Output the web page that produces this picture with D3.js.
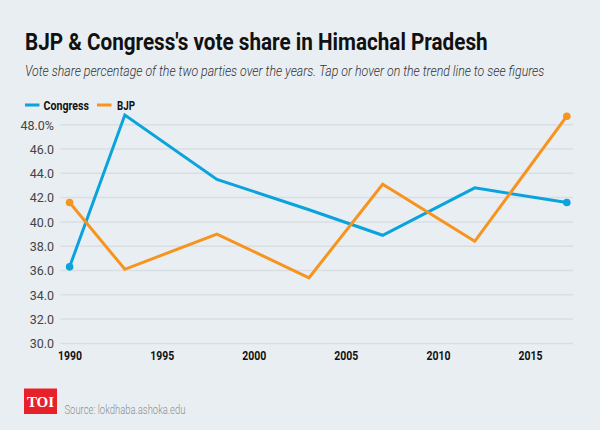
<!DOCTYPE html>
<html><head><meta charset="utf-8">
<script src="https://cdn.jsdelivr.net/npm/d3@7"></script>
<style>html,body{margin:0;padding:0;background:#e9eef3;}svg{display:block;}</style>
</head><body>
<script>
const years = [1990, 1993, 1998, 2003, 2007, 2012, 2017];
const congress = [36.3, 48.8, 43.5, 41.0, 38.9, 42.8, 41.6];
const bjp = [41.6, 36.1, 39.0, 35.4, 43.1, 38.4, 48.7];
const yTicks = [30, 32, 34, 36, 38, 40, 42, 44, 46, 48];
const xTicks = [1990, 1995, 2000, 2005, 2010, 2015];
const seriesNames = ["Congress", "BJP"];
const colors = ["#0aa3de", "#f7941e"];

const W = 600, H = 430;
const svg = d3.select("body").append("svg").attr("width", W).attr("height", H);
svg.append("rect").attr("width", W).attr("height", H).attr("fill", "#e9eef3");

// horizontally condensed text helper
function condensed(g, px, py, width, txt, attrs) {
  const grp = g.append("g");
  const t = grp.append("text").attr("x", 0).attr("y", 0).text(txt);
  Object.entries(attrs).forEach(([k, v]) => t.attr(k, v));
  const w0 = t.node().getComputedTextLength();
  grp.attr("transform", `translate(${px},${py}) scale(${width / w0},1)`);
  return grp;
}

condensed(svg, 25, 50, 463, "BJP & Congress's vote share in Himachal Pradesh",
  {"font-family": "Roboto", "font-weight": 700, "font-size": 24.5, "fill": "#111"});
condensed(svg, 25, 76, 520, "Vote share percentage of the two parties over the years. Tap or hover on the trend line to see figures",
  {"font-family": "Roboto", "font-style": "italic", "font-weight": 300, "font-size": 14.5, "fill": "#333"});

// legend
const legend = [{x: 25, tx: 43.5, tw: 45.5}, {x: 97, tx: 117, tw: 18}];
seriesNames.forEach((n, i) => {
  svg.append("line").attr("x1", legend[i].x).attr("x2", legend[i].x + 14.5)
    .attr("y1", 105).attr("y2", 105).attr("stroke", colors[i]).attr("stroke-width", 3);
  condensed(svg, legend[i].tx, 110, legend[i].tw, n,
    {"font-family": "Roboto", "font-weight": 700, "font-size": 12.5, "fill": "#111"});
});

const x = d3.scaleLinear().domain([1990, 2015]).range([69.6, 530]);
const y = d3.scaleLinear().domain([30, 48]).range([343.4, 124.7]);

// grid + y labels
const yAxis = d3.axisLeft(y).tickValues(yTicks).tickSize(0).tickPadding(0)
  .tickFormat(d => d === 48 ? d.toFixed(1) + "%" : d.toFixed(1));
const gy = svg.append("g").attr("transform", "translate(54,0)").call(yAxis);
gy.select(".domain").remove();
gy.selectAll("text").attr("font-family", "Roboto").attr("font-size", 12.5)
  .attr("fill", "#444").attr("dy", "0.35em");
svg.append("g").selectAll("line").data(yTicks).join("line")
  .attr("x1", 60.5).attr("x2", 573).attr("y1", d => y(d)).attr("y2", d => y(d))
  .attr("stroke", "#d9dee3").attr("stroke-width", 1.5);

// x axis
const xAxis = d3.axisBottom(x).tickValues(xTicks).tickSize(0).tickPadding(0).tickFormat(d3.format("d"));
const gx = svg.append("g").attr("transform", "translate(0,351)").call(xAxis);
gx.select(".domain").remove();
gx.selectAll("text").attr("font-family", "Roboto").attr("font-weight", 700).attr("font-size", 12)
  .attr("fill", "#111").attr("textLength", 24).attr("lengthAdjust", "spacingAndGlyphs");

// lines
const line = d3.line().x((d, i) => x(years[i])).y(d => y(d));
[congress, bjp].forEach((s, k) => {
  svg.append("path").datum(s).attr("d", line).attr("fill", "none")
    .attr("stroke", colors[k]).attr("stroke-width", 3).attr("stroke-linejoin", "miter");
  [0, s.length - 1].forEach(i => {
    svg.append("circle").attr("cx", x(years[i])).attr("cy", y(s[i])).attr("r", 3.8).attr("fill", colors[k]);
  });
});

// footer
svg.append("rect").attr("x", 24).attr("y", 388.5).attr("width", 33).attr("height", 25.5).attr("fill", "#e8202a");
svg.append("text").attr("x", 40.5).attr("y", 406.5).attr("text-anchor", "middle")
  .attr("font-family", "Liberation Serif").attr("font-weight", 700).attr("font-size", 15)
  .attr("fill", "#fff").text("TOI");
condensed(svg, 64.5, 413.5, 121, "Source: lokdhaba.ashoka.edu",
  {"font-family": "Roboto", "font-weight": 300, "font-size": 12, "fill": "#8f8f8f"});
</script>
</body></html>
